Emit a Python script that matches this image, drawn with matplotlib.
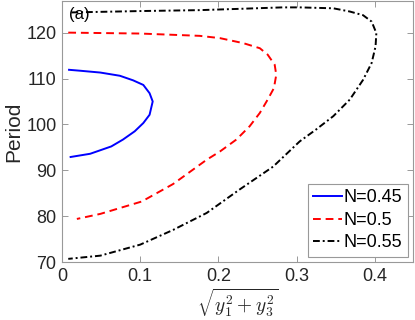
import matplotlib
matplotlib.use("Agg")
import matplotlib.pyplot as plt

# curve data
n_labels = ["N=0.45", "N=0.5", "N=0.55"]

amp_045 = [0.009, 0.023, 0.049, 0.074, 0.091, 0.104, 0.112, 0.116,
           0.112, 0.104, 0.093, 0.078, 0.063, 0.036, 0.011]
per_045 = [111.9, 111.7, 111.3, 110.6, 109.6, 108.6, 106.8, 105.0,
           102.1, 100.3, 98.5, 96.7, 95.2, 93.6, 92.9]

amp_05 = [0.008, 0.100, 0.176, 0.202, 0.232, 0.253, 0.263, 0.272,
          0.274, 0.271, 0.263, 0.253, 0.240, 0.223, 0.202, 0.185,
          0.142, 0.102, 0.049, 0.019]
per_05 = [120.0, 119.8, 119.3, 118.8, 117.7, 116.6, 115.2, 113.0,
          110.8, 107.9, 105.4, 102.5, 99.6, 96.7, 94.1, 92.3,
          87.0, 83.2, 80.5, 79.4]

amp_055 = [0.012, 0.100, 0.176, 0.230, 0.282, 0.304, 0.347, 0.368,
           0.385, 0.396, 0.402, 0.401, 0.396, 0.385, 0.368, 0.347,
           0.325, 0.304, 0.270, 0.227, 0.185, 0.142, 0.100, 0.049,
           0.008]
per_055 = [124.4, 124.7, 124.9, 125.2, 125.5, 125.5, 125.3, 124.6,
           123.8, 122.4, 119.9, 117.0, 113.4, 109.7, 105.4, 101.8,
           98.9, 96.3, 90.8, 85.8, 80.7, 77.0, 73.8, 71.4,
           70.7]

plt.rcParams['font.family'] = ['Liberation Sans', 'DejaVu Sans']
plt.rcParams['mathtext.fontset'] = 'cm'

fig = plt.figure(figsize=(4.15, 3.2), dpi=100)
ax = fig.add_axes([0.1494, 0.181, 0.846, 0.816])

ax.plot(amp_045, per_045, color='#0000ff', lw=1.4, label=n_labels[0])
ax.plot(amp_05, per_05, color='#ff0000', lw=1.4, ls=(0, (4, 2.5)),
        label=n_labels[1])
ax.plot(amp_055, per_055, color='black', lw=1.4, ls=(0, (3.5, 1.5, 1, 1.5)),
        label=n_labels[2])

ax.set_xlim(0, 0.449)
ax.set_ylim(70, 126.9)
ax.set_xticks([0, 0.1, 0.2, 0.3, 0.4])
ax.set_xticklabels(['0', '0.1', '0.2', '0.3', '0.4'])
ax.set_yticks([70, 80, 90, 100, 110, 120])

for s in ax.spines.values():
    s.set_color('#999999')
    s.set_linewidth(0.8)
ax.tick_params(direction='in', top=True, right=True, length=4,
               width=0.7, color='#999999', labelsize=13,
               labelcolor='#262626', pad=4)

ax.set_ylabel('Period', fontsize=15, color='#262626', labelpad=2)
ax.set_xlabel(r'$\sqrt{y_1^2+y_3^2}$', fontsize=14, color='#262626',
              labelpad=1)

ax.text(0.02, 0.975, '(a)', transform=ax.transAxes, fontsize=12,
        va='top', ha='left')

leg = ax.legend(loc='lower right', fontsize=13, handlelength=1.6,
                handletextpad=0.1, borderpad=0.3, labelspacing=0.3,
                fancybox=False, framealpha=1, borderaxespad=0.3)
leg.get_frame().set_edgecolor('#999999')
leg.get_frame().set_linewidth(0.8)

fig.savefig('out.png', dpi=100)
